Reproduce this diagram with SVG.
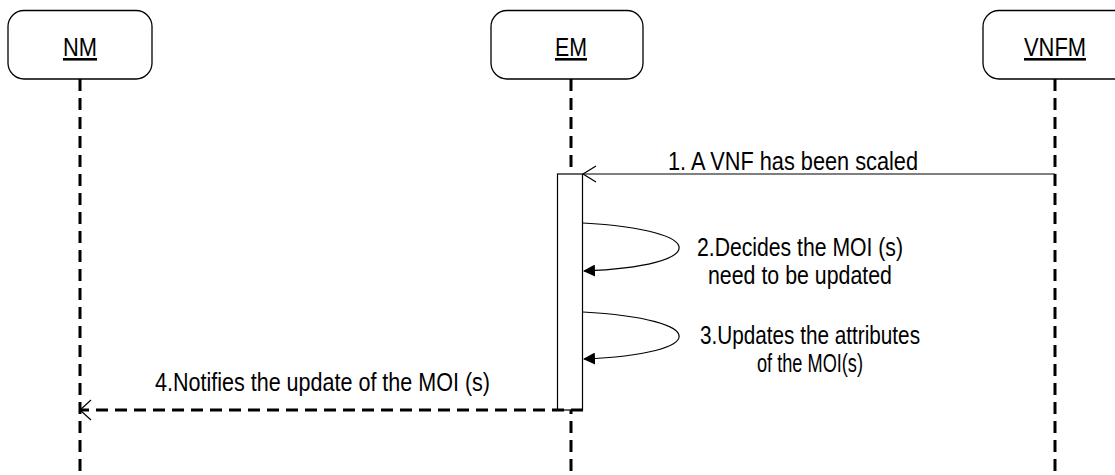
<svg xmlns="http://www.w3.org/2000/svg" width="1115" height="475" viewBox="0 0 1115 475">
<style>
text{font-family:"Liberation Sans Narrow","Arial Narrow","Liberation Sans",sans-serif;font-size:26px;fill:#000}
text.two{font-size:25px}
.box{fill:#fff;stroke:#000;stroke-width:1.3}
.life{stroke:#000;stroke-width:3;stroke-dasharray:12 7;fill:none}
.msg{stroke:#000;stroke-width:1.2;fill:none}
.ret{stroke:#000;stroke-width:3;stroke-dasharray:12 7;fill:none}
.open{stroke:#000;stroke-width:1.2;fill:none}
</style>
<defs>
<marker id="filled" viewBox="0 0 12 12" refX="11" refY="6" markerWidth="12" markerHeight="12" markerUnits="userSpaceOnUse" orient="auto">
<path d="M0,0 L12,6 L0,12 z" fill="#000"/>
</marker>
</defs>
<g id="lifelines">
<line class="life" x1="80" y1="79" x2="80" y2="475"/>
<line class="life" x1="571" y1="79" x2="571" y2="475"/>
<line class="life" x1="1055" y1="79" x2="1055" y2="475"/>
</g>
<g id="NM">
<rect class="box" x="8" y="10.5" width="144" height="68.5" rx="16"/>
<text x="80" y="56" text-anchor="middle" text-decoration="underline" textLength="34" lengthAdjust="spacingAndGlyphs">NM</text>
</g>
<g id="EM">
<rect class="box" x="491" y="10.5" width="152" height="68.5" rx="16"/>
<text x="571" y="56" text-anchor="middle" text-decoration="underline" textLength="32" lengthAdjust="spacingAndGlyphs">EM</text>
</g>
<g id="VNFM">
<rect class="box" x="983" y="10.5" width="150" height="68.5" rx="16"/>
<text x="1055" y="56" text-anchor="middle" text-decoration="underline" textLength="62" lengthAdjust="spacingAndGlyphs">VNFM</text>
</g>
<g id="activation">
<rect x="557.5" y="174" width="25" height="236" fill="#fff" stroke="#000" stroke-width="1.2"/>
</g>
<g id="connectors">
<line class="msg" x1="1055" y1="174" x2="583" y2="174"/>
<polyline class="open" points="596,166 583,174 596,182"/>
<path class="msg" d="M583,223 C711,230 711,266 584,271" marker-end="url(#filled)"/>
<path class="msg" d="M583,312 C711,319 711,354 584,359" marker-end="url(#filled)"/>
<line class="ret" x1="583" y1="410" x2="81" y2="410"/>
<polyline class="open" points="91,400 80,410 91,420"/>
</g>
<g id="labels">
<text x="668" y="170" textLength="250" lengthAdjust="spacingAndGlyphs">1. A VNF has been scaled</text>
<text class="two" x="697" y="256" textLength="206" lengthAdjust="spacingAndGlyphs">2.Decides the MOI (s)</text>
<text class="two" x="708" y="284" textLength="184" lengthAdjust="spacingAndGlyphs">need to be updated</text>
<text class="two" x="700" y="344" textLength="220" lengthAdjust="spacingAndGlyphs">3.Updates the attributes</text>
<text class="two" x="757" y="372" textLength="106" lengthAdjust="spacingAndGlyphs">of the MOI(s)</text>
<text x="155" y="391" textLength="335" lengthAdjust="spacingAndGlyphs">4.Notifies the update of the MOI (s)</text>
</g>
</svg>
